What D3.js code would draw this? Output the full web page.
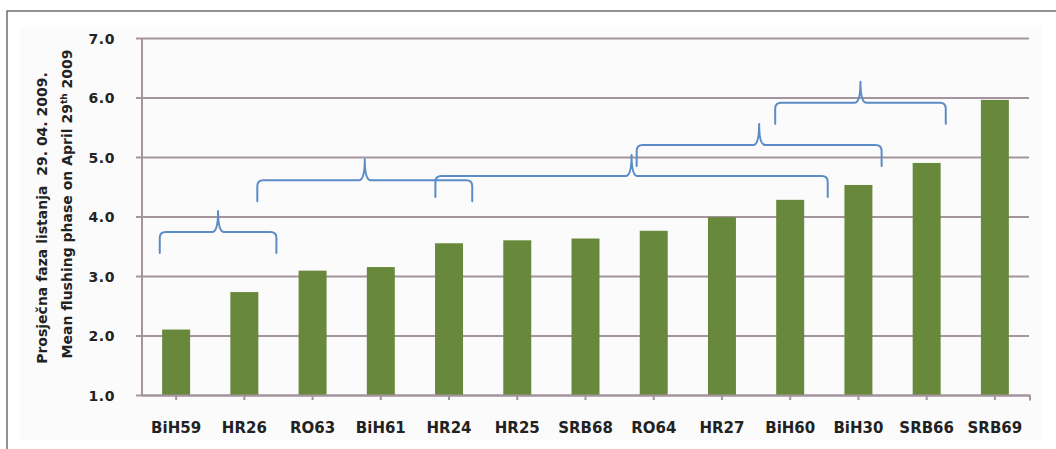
<!DOCTYPE html>
<html>
<head>
<meta charset="utf-8">
<script src="https://cdn.jsdelivr.net/npm/d3@7/dist/d3.min.js"></script>
<style>
  html, body { margin: 0; padding: 0; background: #ffffff; }
  svg { display: block; }
  text { font-family: "DejaVu Sans", Verdana, sans-serif; font-weight: bold; fill: #222; }
</style>
</head>
<body>
<svg id="chart" width="1056" height="449"></svg>
<script>
// Provenances, ordered by mean flushing phase
const categories = ["BiH59", "HR26", "RO63", "BiH61", "HR24", "HR25", "SRB68",
                    "RO64", "HR27", "BiH60", "BiH30", "SRB66", "SRB69"];
const flushing = [2.1, 2.73, 3.09, 3.15, 3.55, 3.6, 3.63, 3.76, 3.99, 4.28, 4.53, 4.9, 5.96];
const yTicks = [1, 2, 3, 4, 5, 6, 7];

// Homogeneous groups marked with curly braces (start/end in category index units, level in axis units)
const braceFrom  = [-0.24, 1.19, 3.80, 6.75, 8.78];
const braceTo    = [1.47, 4.34, 9.55, 10.34, 11.28];
const braceLevel = [3.74, 4.61, 4.68, 5.20, 5.91];

const svg = d3.select("#chart");

// outer frame (top and left edges) and faint panel
svg.append("rect").attr("x", 20).attr("y", 27).attr("width", 1022).attr("height", 413)
  .attr("fill", "#fbfbfb");
svg.append("path").attr("d", "M7,449 V11 H1056")
  .attr("fill", "none").attr("stroke", "#6e6e6e").attr("stroke-width", 1.5);

const plotLeft = 142, plotRight = 1029, plotTop = 38, plotBottom = 395;

const x = d3.scaleBand().domain(categories).range([plotLeft, plotRight])
  .paddingInner(0.59).paddingOuter(0.295);
const xi = d3.scaleLinear().domain([-0.5, categories.length - 0.5]).range([plotLeft, plotRight]);
const y = d3.scaleLinear().domain([1, 7]).range([plotBottom, plotTop]);

const gridColor = "#a3949e";

// horizontal gridlines with outside ticks
const yAxis = d3.axisLeft(y).tickValues(yTicks).tickFormat(d3.format(".1f"))
  .tickSize(-(plotRight - plotLeft)).tickPadding(0);
const gy = svg.append("g").attr("transform", `translate(${plotLeft},0)`).call(yAxis);
gy.select(".domain").remove();
gy.selectAll(".tick line").attr("stroke", gridColor).attr("stroke-width", 2).attr("x1", -6);
gy.selectAll(".tick text").attr("x", -27).attr("dy", "0.36em")
  .style("font-size", "14px").style("letter-spacing", "0.6px").attr("fill", "#2a2a2a");

// y axis line
svg.append("line").attr("x1", plotLeft).attr("x2", plotLeft).attr("y1", plotTop).attr("y2", plotBottom)
  .attr("stroke", gridColor).attr("stroke-width", 2);

// bars
svg.append("g").selectAll("rect").data(flushing).join("rect")
  .attr("x", (d, i) => x(categories[i]))
  .attr("width", x.bandwidth())
  .attr("y", d => y(d))
  .attr("height", d => y(1) - y(d))
  .attr("fill", "#68883b");

// category axis
const xAxis = d3.axisBottom(x).tickSize(5).tickPadding(22).tickSizeOuter(0);
const gx = svg.append("g").attr("transform", `translate(0,${plotBottom})`).call(xAxis);
gx.select(".domain").attr("stroke", gridColor).attr("stroke-width", 2)
  .attr("d", `M${plotLeft},0.5H${plotRight + 1}v5`);
gx.selectAll(".tick line").attr("stroke", gridColor).attr("stroke-width", 2);
gx.selectAll(".tick text").style("font-size", "15px").attr("fill", "#2a2a2a");

// curly braces
const rise = 21, r = 6;
function bracePath(x1, x2, h) {
  const t = (x1 + x2) / 2;
  return `M${x1},${h + rise} V${h + r} Q${x1},${h} ${x1 + r},${h} H${t - r}` +
         ` Q${t},${h} ${t},${h - rise}` +
         ` Q${t},${h} ${t + r},${h} H${x2 - r} Q${x2},${h} ${x2},${h + r} V${h + rise}`;
}
svg.append("g").selectAll("path").data(braceLevel).join("path")
  .attr("d", (d, i) => bracePath(xi(braceFrom[i]), xi(braceTo[i]), y(d)))
  .attr("fill", "none").attr("stroke", "#5b8cc6").attr("stroke-width", 2)
  .attr("stroke-linejoin", "round").attr("stroke-linecap", "round");

// y axis title (two lines)
const t1 = svg.append("text").attr("transform", "translate(42,218) rotate(-90)")
  .attr("text-anchor", "middle").attr("dy", "0.36em").style("font-size", "14px")
  .attr("xml:space", "preserve");
t1.text("Prosječna faza listanja  29. 04. 2009.");
const t2 = svg.append("text").attr("transform", "translate(67,204) rotate(-90)")
  .attr("text-anchor", "middle").attr("dy", "0.36em").style("font-size", "14px");
t2.append("tspan").text("Mean flushing phase on April 29");
t2.append("tspan").attr("dy", "-5").style("font-size", "9px").text("th");
t2.append("tspan").attr("dy", "5").text(" 2009");
</script>
</body>
</html>
